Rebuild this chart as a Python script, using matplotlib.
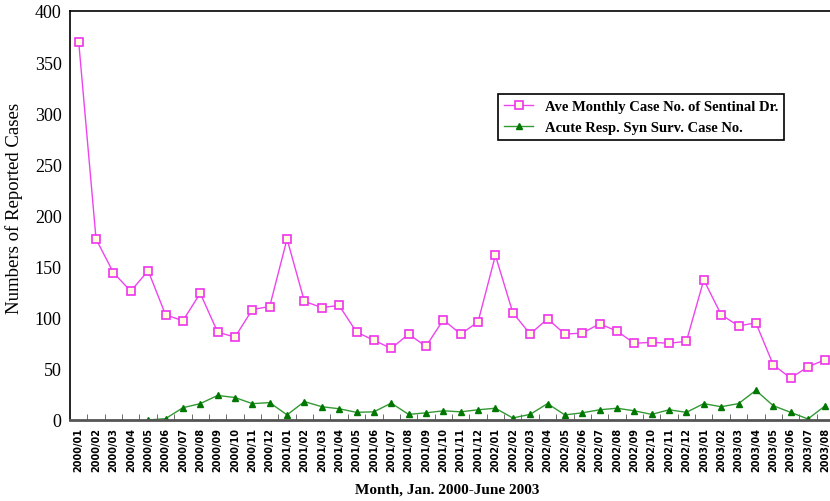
import numpy as np
import matplotlib
matplotlib.use('Agg')
import matplotlib.pyplot as plt

months = [f'{y}/{m:02d}' for y in (2000, 2001, 2002, 2003) for m in range(1, 13)][:44]

sentinel = [370, 177, 144, 126, 146, 103, 97, 124, 86, 81, 108, 111,
            177, 116, 110, 112, 86, 78, 70, 84, 72, 98, 84, 96,
            161, 105, 84, 99, 84, 85, 94, 87, 75, 76, 75, 77,
            137, 103, 92, 95, 54, 41, 52, 59]

acute = [np.nan, np.nan, np.nan, np.nan, 0, 1.3, 12, 16, 24, 22, 16, 17,
         5, 18, 13, 11, 7.5, 8, 16.5, 5.5, 7, 9, 8, 10,
         11.5, 2, 5.5, 16, 5, 7, 10, 11.5, 9, 5.5, 10, 7.5,
         16, 13, 16, 29, 14, 7.5, 1, 14]

fig = plt.figure(figsize=(8.3, 5.02), dpi=100)
ax = fig.add_axes([70 / 830, 81 / 502, 764 / 830, 409 / 502])

x = np.arange(len(months))
ax.plot(x, sentinel, color='#ee44ee', lw=1, marker='s', ms=6,
        mfc='#ffffdd', mec='#ee33ee', mew=1.2,
        label='Ave Monthly Case No. of Sentinal Dr.')
ax.plot(x, acute, color='#339933', lw=1, marker='^', ms=5,
        mfc='#007700', mec='#007700',
        label='Acute Resp. Syn Surv. Case No.')

ax.set_xlim(-0.5, len(months) - 0.5)
ax.set_ylim(0, 400)
ax.set_yticks(range(0, 401, 50))
ax.set_xticks(x)
ax.set_xticklabels(months, rotation=90, fontsize=7, fontweight='bold',
                   family='DejaVu Sans')
ax.set_xticks(x[:-1] + 0.5, minor=True)
ax.tick_params(axis='x', which='major', length=0, pad=5)
ax.tick_params(axis='x', which='minor', direction='in', length=4, color='#555555')
ax.tick_params(axis='y', length=0, pad=6)
for lab in ax.get_yticklabels():
    lab.set_family('Liberation Serif')
    lab.set_fontsize(13)

ax.spines['bottom'].set_linewidth(2)
ax.spines['bottom'].set_color('#555555')
ax.spines['left'].set_linewidth(1.2)
ax.spines['top'].set_linewidth(1.2)

ax.set_ylabel('Numbers of Reported Cases', family='Liberation Serif', fontsize=13.5)
ax.yaxis.set_label_coords(-0.061, 0.52)
fig.text(447 / 830, 1 - 490 / 502, 'Month, Jan. 2000-June 2003', ha='center',
         va='center', family='Liberation Serif', fontsize=11, fontweight='bold')

leg = ax.legend(loc='upper left', bbox_to_anchor=(491 / 830, 1 - 88 / 502),
                bbox_transform=fig.transFigure, fancybox=False, framealpha=1,
                edgecolor='black', handlelength=2, borderpad=0.4,
                prop={'family': 'Liberation Serif', 'size': 10.5, 'weight': 'bold'})
leg.get_frame().set_linewidth(1.2)

fig.savefig('out.png', dpi=100)
